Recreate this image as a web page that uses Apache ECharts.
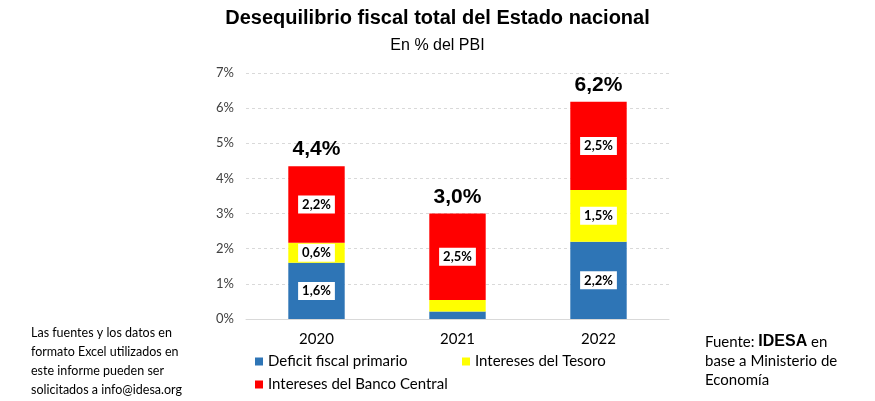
<!DOCTYPE html>
<html><head><meta charset="utf-8">
<script src="https://cdn.jsdelivr.net/npm/echarts@6/dist/echarts.min.js"></script>
<style>html,body{margin:0;padding:0;background:#fff}#c{width:875px;height:401px}</style>
</head><body><div id="c"></div>
<script>
const categories = ['2020', '2021', '2022'];
const deficitPrimario = [1.6, 0.21, 2.2];
const interesesTesoro = [0.57, 0.33, 1.47];
const interesesBCRA = [2.18, 2.46, 2.51];
const totals = [4.4, 3.0, 6.2];
// whether each segment shows its value label, per series
const showDeficit = [true, false, true];
const showTesoro = [true, false, true];
const showBCRA = [true, true, true];
const yTicks = [0, 1, 2, 3, 4, 5, 6, 7];

const fmt = v => v.toFixed(1).replace('.', ',') + '%';
const F = 'Lato, "Open Sans", sans-serif';
const A = '"Liberation Sans", Arial, sans-serif';

const innerLabel = {
  show: true, position: 'inside',
  formatter: p => fmt(p.value),
  backgroundColor: '#fff', padding: [3, 4, 2, 4],
  color: '#000', fontWeight: 'bold', fontSize: 13, fontFamily: F
};
const withLabels = (vals, shows) => vals.map((v, i) => ({ value: v, label: { show: shows[i] } }));

const chart = echarts.init(document.getElementById('c'));
chart.setOption({
  animation: false,
  title: [
    { text: 'Desequilibrio fiscal total del Estado nacional', left: 'center', top: 3,
      textStyle: { fontFamily: A, fontSize: 20, fontWeight: 'bold', color: '#000' } },
    { text: 'En % del PBI', left: 'center', top: 33,
      textStyle: { fontFamily: A, fontSize: 16, fontWeight: 'normal', color: '#000' } }
  ],
  grid: { left: 246, right: 206, top: 73, bottom: 82 },
  legend: [
    { data: ['Deficit fiscal primario'], left: 250, top: 349, itemWidth: 8, itemHeight: 8,
      icon: 'rect', textStyle: { fontFamily: F, fontSize: 15, color: '#000' } },
    { data: ['Intereses del Tesoro'], left: 457, top: 349, itemWidth: 8, itemHeight: 8,
      icon: 'rect', textStyle: { fontFamily: F, fontSize: 15, color: '#000' } },
    { data: ['Intereses del Banco Central'], left: 250, top: 372, itemWidth: 8, itemHeight: 8,
      icon: 'rect', textStyle: { fontFamily: F, fontSize: 15, color: '#000' } }
  ],
  xAxis: {
    type: 'category', data: categories,
    axisLine: { lineStyle: { color: '#d9d9d9' } }, axisTick: { show: false },
    axisLabel: { fontFamily: F, fontSize: 15, color: '#000', margin: 13 }
  },
  yAxis: {
    type: 'value', min: yTicks[0], max: yTicks[yTicks.length - 1], interval: 1,
    axisLabel: { formatter: '{value}%', fontFamily: F, fontSize: 13, color: '#404040', margin: 12 },
    splitLine: { lineStyle: { color: '#d9d9d9', type: [3, 3] } },
    axisLine: { show: false }, axisTick: { show: false }
  },
  series: [
    { name: 'Deficit fiscal primario', type: 'bar', stack: 't', data: withLabels(deficitPrimario, showDeficit), barWidth: '40%',
      itemStyle: { color: '#2E75B6' }, label: innerLabel },
    { name: 'Intereses del Tesoro', type: 'bar', stack: 't', data: withLabels(interesesTesoro, showTesoro),
      itemStyle: { color: '#FFFF00' }, label: innerLabel },
    { name: 'Intereses del Banco Central', type: 'bar', stack: 't', data: withLabels(interesesBCRA, showBCRA),
      itemStyle: { color: '#FF0000' }, label: innerLabel },
    { name: 'Total', type: 'bar', stack: 't', data: totals.map(() => 0),
      itemStyle: { color: 'transparent' },
      label: { show: true, position: 'top', distance: 6, formatter: p => fmt(totals[p.dataIndex]),
        color: '#000', fontWeight: 'bold', fontSize: 21, fontFamily: A } }
  ],
  graphic: [
    { type: 'text', left: 31, top: 323, style: {
      text: 'Las fuentes y los datos en\nformato Excel utilizados en\neste informe pueden ser\nsolicitados a info@idesa.org',
      font: '12.5px ' + F, fill: '#000', lineHeight: 19 } },
    { type: 'text', left: 705, top: 334, style: {
      text: '{n|Fuente: }{b|IDESA}{n| en}\n{n|base a Ministerio de}\n{n|Economía}',
      rich: {
        n: { fontFamily: F, fontSize: 15, color: '#000', lineHeight: 19 },
        b: { fontFamily: A, fontWeight: 900, fontSize: 16, color: '#000', lineHeight: 19 }
      } } }
  ]
});
</script></body></html>
